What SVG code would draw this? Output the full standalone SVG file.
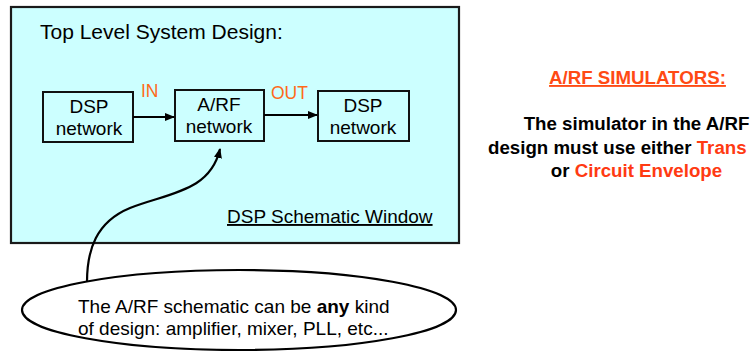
<svg xmlns="http://www.w3.org/2000/svg" width="753" height="351" viewBox="0 0 753 351">
<defs>
<marker id="ah" markerWidth="10" markerHeight="8" refX="9" refY="4" orient="auto" markerUnits="userSpaceOnUse">
<path d="M0,0 L10,4 L0,8 Z" fill="#000"/>
</marker>
<style>
.t{font-family:"Liberation Sans",Arial,sans-serif;fill:#000}
.box{fill:none;stroke:#111;stroke-width:2}
.lbl{font-size:19px;text-anchor:middle}
.io{font-size:17.5px;fill:#ff6a1a}
.conn{fill:none;stroke:#000;stroke-width:2.2}
.red{fill:#ff3a12}
</style>
</defs>
<rect width="753" height="351" fill="#fff"/>
<g id="window">
<rect x="11" y="7" width="448" height="236" fill="#ccffff" stroke="#1a1a1a" stroke-width="2.2"/>
<text class="t" x="40" y="39" font-size="21">Top Level System Design:</text>
<text class="t" x="227" y="223" font-size="19" text-decoration="underline">DSP Schematic Window</text>
</g>
<g id="dsp1">
<rect class="box" x="43" y="92" width="90" height="50"/>
<text class="t lbl" x="89" y="113">DSP</text>
<text class="t lbl" x="89" y="135">network</text>
</g>
<g id="arf">
<rect class="box" x="175" y="90" width="89" height="51"/>
<text class="t lbl" x="219" y="111">A/RF</text>
<text class="t lbl" x="219" y="133">network</text>
</g>
<g id="dsp2">
<rect class="box" x="318" y="91" width="91" height="50"/>
<text class="t lbl" x="363" y="112">DSP</text>
<text class="t lbl" x="363" y="134">network</text>
</g>
<g id="connectors">
<line class="conn" x1="133" y1="117" x2="174" y2="117" marker-end="url(#ah)"/>
<line class="conn" x1="264" y1="115" x2="317" y2="115" marker-end="url(#ah)"/>
<path class="conn" d="M87,282 C87,250 96,222 130,208 C168,193 210,192 220,149" marker-end="url(#ah)"/>
<text class="t io" x="141" y="97">IN</text>
<text class="t io" x="271" y="99">OUT</text>
</g>
<g id="note">
<ellipse cx="239" cy="310" rx="217" ry="40" fill="#fff" stroke="#000" stroke-width="2.2"/>
<text class="t" x="78" y="313" font-size="19">The A/RF schematic can be <tspan font-weight="bold">any</tspan> kind</text>
<text class="t" x="78" y="335" font-size="19">of design: amplifier, mixer, PLL, etc...</text>
</g>
<g id="simulators">
<text class="t" x="637.5" y="84" font-size="18.7" font-weight="bold" text-anchor="middle" text-decoration="underline" style="fill:#ff4a14">A/RF SIMULATORS:</text>
<text class="t" x="636.5" y="130" font-size="18.7" font-weight="bold" text-anchor="middle">The simulator in the A/RF</text>
<text class="t" x="488" y="154" font-size="18.7" font-weight="bold">design must use either <tspan class="red">Trans</tspan></text>
<text class="t" x="636.5" y="177" font-size="18.7" font-weight="bold" text-anchor="middle">or <tspan class="red">Circuit Envelope</tspan></text>
</g>
</svg>
